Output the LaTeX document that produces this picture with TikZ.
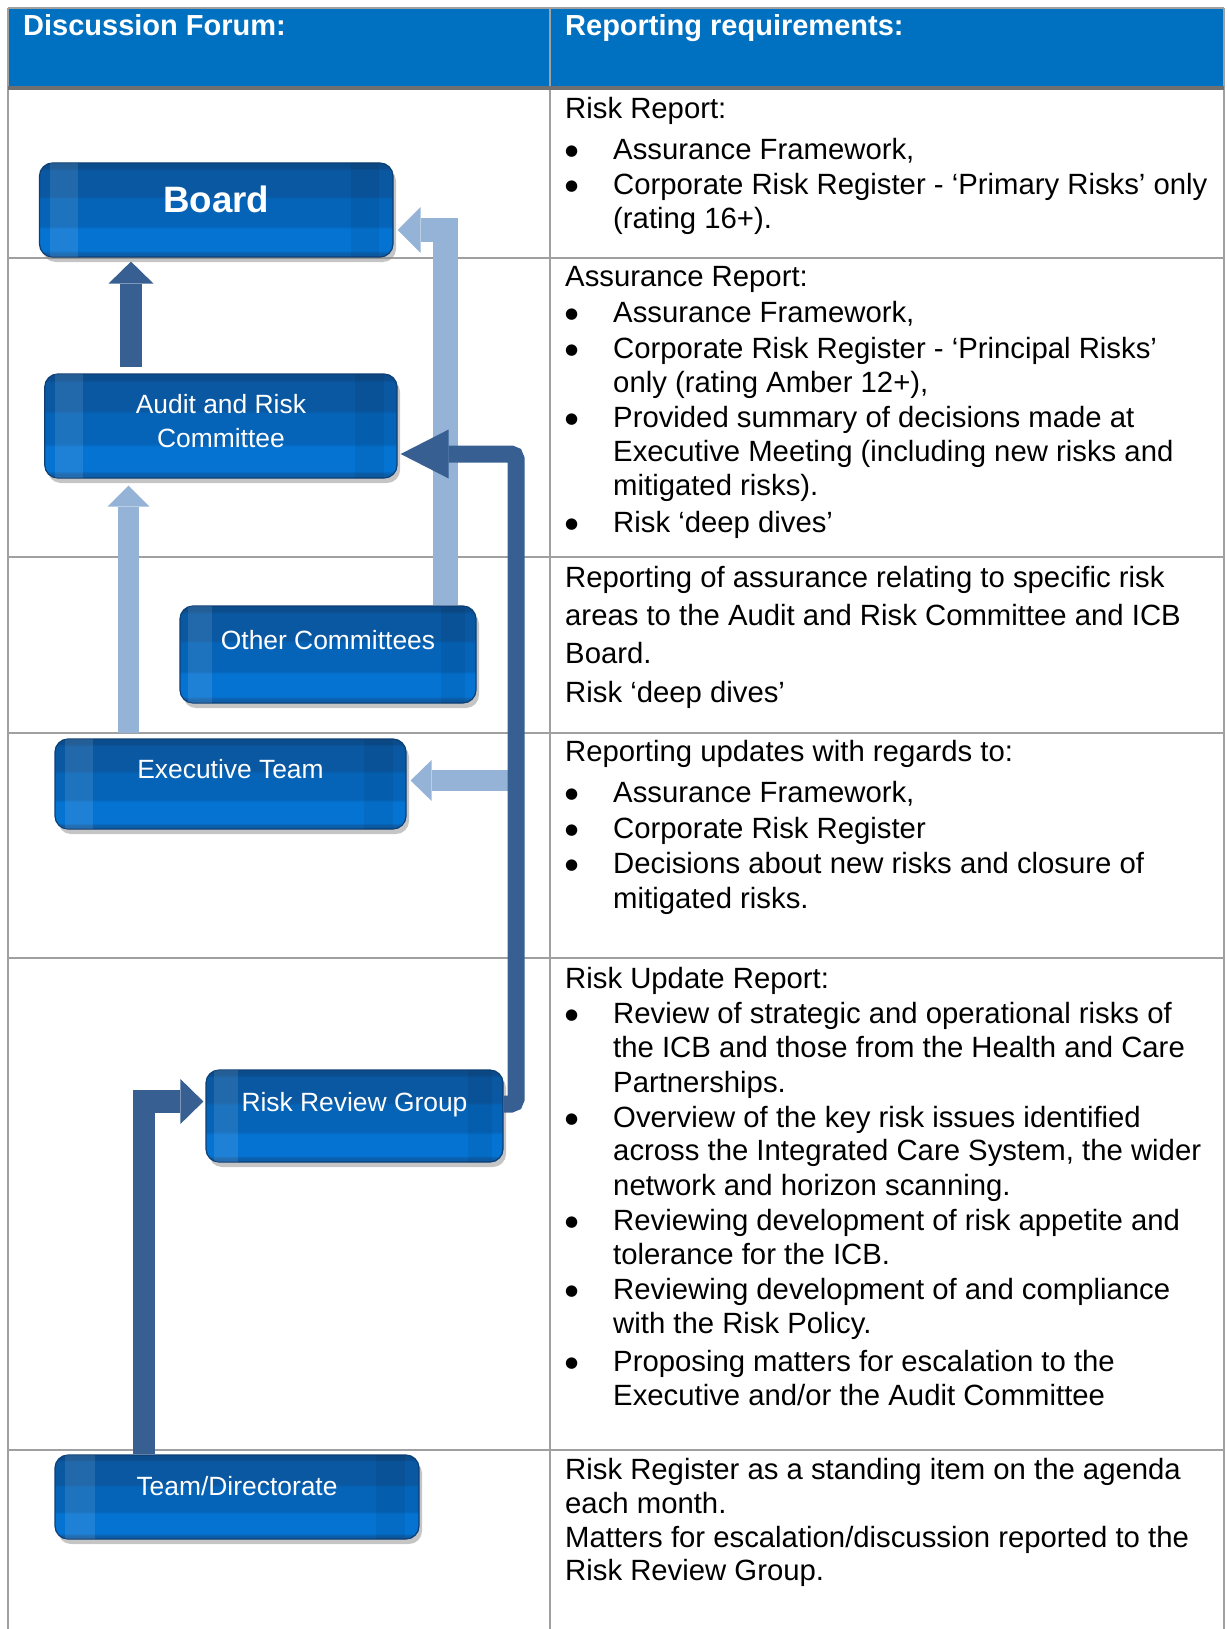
\documentclass[tikz,border=0pt]{standalone}
\usepackage{fontspec}
\setmainfont{Liberation Sans}
\newfontfamily\dotfont{DejaVu Sans}
\usetikzlibrary{arrows.meta,calc,shadows}

\definecolor{hdrblue}{HTML}{0070C0}
\definecolor{gridgray}{HTML}{A0A0A0}
\definecolor{hdrline}{HTML}{707070}
\definecolor{darkarr}{HTML}{375F92}
\definecolor{lightarr}{HTML}{95B3D7}
\definecolor{gbTop}{HTML}{0B4C8C}
\definecolor{gbDark}{HTML}{0A58A2}
\definecolor{gbMid}{HTML}{0564B8}
\definecolor{gbBright}{HTML}{0573D2}
\definecolor{gbBot}{HTML}{0B5EAA}
\definecolor{boxedge}{HTML}{0D3F75}

% glossy fill of the forum boxes (bottom to top)
\pgfdeclareverticalshading{glossblue}{100bp}{%
 color(0bp)=(gbBot); color(27bp)=(gbBot);
 color(28.5bp)=(gbBright); color(40bp)=(gbBright);
 color(41.5bp)=(gbMid); color(56bp)=(gbMid);
 color(57.5bp)=(gbDark); color(71bp)=(gbDark);
 color(72.5bp)=(gbTop); color(100bp)=(gbTop)}

\tikzset{
  forum/.style={rectangle, rounded corners=13pt, draw=boxedge, line width=1.2pt,
    shading=glossblue, inner sep=0pt,
    drop shadow={shadow xshift=3pt, shadow yshift=-5pt, fill=black!45, opacity=.5}},
  boxtxt/.style={text=white, inner sep=0pt, align=center,
    font=\fontsize{26.4}{34.5}\selectfont},
  hdr/.style={anchor=base west, inner sep=0pt, text=white,
    font=\fontsize{29}{35}\selectfont\bfseries},
  body/.style={anchor=base west, inner sep=0pt, font=\fontsize{29.3}{35}\selectfont},
  bul/.style={anchor=base, inner sep=0pt, font=\dotfont\fontsize{15}{18}\selectfont},
  grid/.style={draw=gridgray, line width=2pt},
  darkflow/.style={draw=darkarr, line width=22pt},
  lightflow/.style={draw=lightarr, line width=21pt},
}

\newcommand\plainline[3]{\node[body] (#1) at (565,#2) {#3};}
\newcommand\bulletline[3]{\node[bul] (#1-b) at (571.7,#2-4) {●};
  \node[body] (#1) at (613,#2) {#3};}
\newcommand\contline[3]{\node[body] (#1) at (613,#2) {#3};}

\begin{document}
\begin{tikzpicture}[x=1pt,y=-1pt]
\useasboundingbox (0,0) rectangle (1226,1629);

% ---------- table ----------
\fill[hdrblue] (8,8) rectangle (1224,88);
\draw[grid] (8,8) -- (1224,8);
\draw[grid] (8,8) -- (8,1629);
\draw[grid] (1224,8) -- (1224,1629);
\draw[grid] (550,8) -- (550,1629);
\foreach \yy in {258,557,733,958,1450}
  \draw[grid] (8,\yy) -- (1224,\yy);
\draw[draw=hdrline, line width=3.5pt] (8,88) -- (1224,88);

\node[hdr] (h1) at (23,36) {Discussion Forum:};
\node[hdr] (h2) at (565,36) {Reporting requirements:};

% ---------- forum boxes ----------
\node[forum, minimum width=353.5pt, minimum height=94pt]  (board) at (216.25,210) {};
\node[forum, minimum width=352.3pt, minimum height=104pt] (audit) at (220.9,426) {};
\node[forum, minimum width=296pt,   minimum height=97pt]  (other) at (328,654.5) {};
\node[forum, minimum width=351pt,   minimum height=90pt]  (exec)  at (230.5,784) {};
\node[forum, minimum width=297pt,   minimum height=92pt]  (rrg)   at (354.5,1116) {};
\node[forum, minimum width=364pt,   minimum height=84pt]  (team)  at (237,1497) {};

% side glints of the glossy boxes
\foreach \b in {board,audit,other,exec,rrg,team}{
  \begin{scope}
    \clip[rounded corners=13pt] ($(\b.south west)+(0.6,-0.6)$) rectangle ($(\b.north east)+(-0.6,0.6)$);
    \fill[white, opacity=.10] ($(\b.south west)!0.03!(\b.south east)$) rectangle ($(\b.north west)!0.11!(\b.north east)$);
    \fill[black, opacity=.06] ($(\b.south west)!0.88!(\b.south east)$) rectangle ($(\b.north west)!0.96!(\b.north east)$);
  \end{scope}
}

% ---------- flows ----------
\coordinate (a1x) at (131,0);
\coordinate (a2x) at (128.5,0);
\coordinate (a3c) at (445.5,230);
\coordinate (a4c1) at (516,1104);
\coordinate (a4c2) at (516,454);
\coordinate (a5s) at (508,780.5);
\coordinate (a6c) at (144,1101.5);

\draw[darkflow, -{Triangle[length=22pt,width=45pt,line width=0pt]},
      shorten <=6pt, shorten >=4pt] (audit.north -| a1x) -- (board.south -| a1x);
\draw[lightflow, -{Triangle[length=21pt,width=42pt,line width=0pt]},
      shorten <=5pt, shorten >=7pt] (exec.north -| a2x) -- (audit.south -| a2x);
\draw[lightflow, line width=24.5pt, -{Triangle[length=23pt,width=46pt,line width=0pt]},
      shorten >=4pt] (other.north -| a3c) -- (a3c) -- (board.east |- a3c);
\draw[lightflow, -{Triangle[length=21pt,width=41pt,line width=0pt]},
      shorten >=4pt] (a5s) -- (exec.east |- a5s);
\draw[darkflow, line width=17pt, rounded corners=5pt,
      -{Triangle[length=48pt,width=49pt,line width=0pt]},
      shorten >=3pt] (rrg.east |- a4c1) -- (a4c1) -- (a4c2) -- (audit.east |- a4c2);
\draw[darkflow, line width=22.5pt, -{Triangle[length=23pt,width=45pt,line width=0pt]},
      shorten >=2pt] (team.north -| a6c) -- (a6c) -- (rrg.west |- a6c);

% ---------- box captions ----------
\node[boxtxt, font=\fontsize{36.7}{40}\selectfont\bfseries, anchor=base]
  (board-t) at ($(board.center)+(0,2.5)$) {Board};
\node[boxtxt, anchor=center] (audit-t) at ($(audit.center)+(0,-5)$) {Audit and Risk\\Committee};
\node[boxtxt, anchor=base] (other-t) at ($(other.center)+(0,-5.5)$) {Other Committees};
\node[boxtxt, anchor=base] (exec-t)  at ($(exec.center)+(0,-6)$) {Executive Team};
\node[boxtxt, anchor=base] (rrg-t)   at ($(rrg.center)+(0,-5)$) {Risk Review Group};
\node[boxtxt, anchor=base] (team-t)  at ($(team.center)+(0,-2)$) {Team/Directorate};

% ---------- reporting requirements ----------
\plainline{r1a}{118.6}{Risk Report:}
\bulletline{r1b}{159.1}{Assurance Framework,}
\bulletline{r1c}{194.4}{Corporate Risk Register - ‘Primary Risks’ only}
\contline{r1d}{228.7}{(rating 16+).}

\plainline{r2a}{286.9}{Assurance Report:}
\bulletline{r2b}{322.2}{Assurance Framework,}
\bulletline{r2c}{358.6}{Corporate Risk Register - ‘Principal Risks’}
\contline{r2d}{392.9}{only (rating Amber 12+),}
\bulletline{r2e}{427.1}{Provided summary of decisions made at}
\contline{r2f}{461.4}{Executive Meeting (including new risks and}
\contline{r2g}{495.7}{mitigated risks).}
\bulletline{r2h}{532.1}{Risk ‘deep dives’}

\plainline{r3a}{587.1}{Reporting of assurance relating to specific risk}
\plainline{r3b}{625.6}{areas to the Audit and Risk Committee and ICB}
\plainline{r3c}{663}{Board.}
\plainline{r3d}{702.5}{Risk ‘deep dives’}

\plainline{r4a}{761.7}{Reporting updates with regards to:}
\bulletline{r4b}{802.2}{Assurance Framework,}
\bulletline{r4c}{838.6}{Corporate Risk Register}
\bulletline{r4d}{873.9}{Decisions about new risks and closure of}
\contline{r4e}{908.2}{mitigated risks.}

\plainline{r5a}{988.2}{Risk Update Report:}
\bulletline{r5b}{1023.5}{Review of strategic and operational risks of}
\contline{r5c}{1057.8}{the ICB and those from the Health and Care}
\contline{r5d}{1092.1}{Partnerships.}
\bulletline{r5e}{1127.4}{Overview of the key risk issues identified}
\contline{r5f}{1160.7}{across the Integrated Care System, the wider}
\contline{r5g}{1195}{network and horizon scanning.}
\bulletline{r5h}{1230.3}{Reviewing development of risk appetite and}
\contline{r5i}{1264.6}{tolerance for the ICB.}
\bulletline{r5j}{1299.9}{Reviewing development of and compliance}
\contline{r5k}{1333.1}{with the Risk Policy.}
\bulletline{r5l}{1371.6}{Proposing matters for escalation to the}
\contline{r5m}{1405.9}{Executive and/or the Audit Committee}

\plainline{r6a}{1479.6}{Risk Register as a standing item on the agenda}
\plainline{r6b}{1513.9}{each month.}
\plainline{r6c}{1547.2}{Matters for escalation/discussion reported to the}
\plainline{r6d}{1580.4}{Risk Review Group.}
\end{tikzpicture}
\end{document}
